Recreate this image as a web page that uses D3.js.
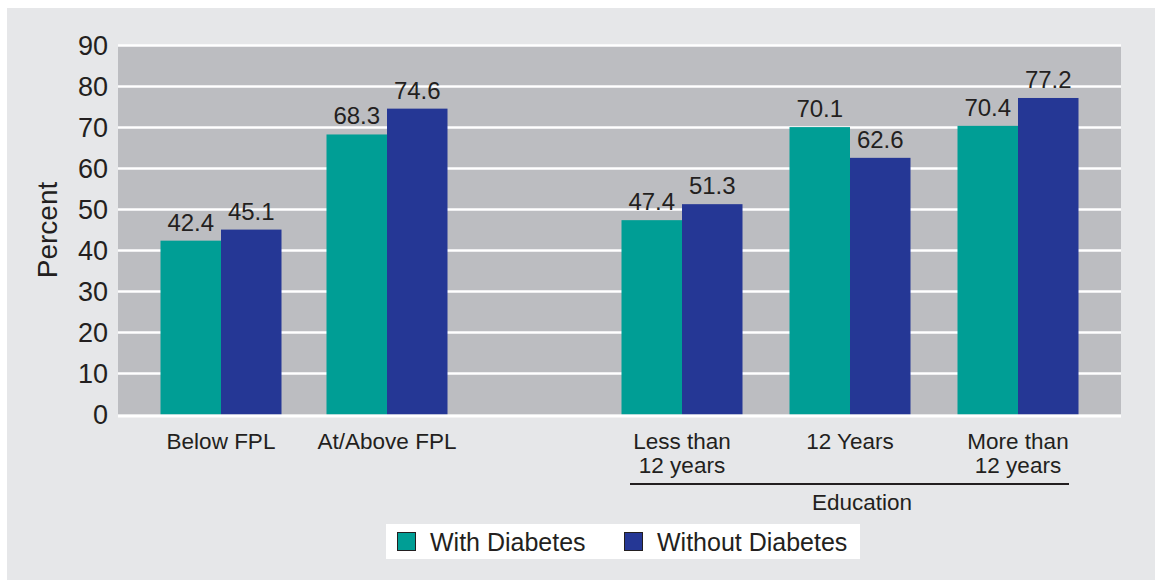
<!DOCTYPE html>
<html>
<head>
<meta charset="utf-8">
<script src="https://cdn.jsdelivr.net/npm/d3@7"></script>
<style>
  html, body { margin: 0; padding: 0; background: #ffffff; }
  svg { display: block; font-family: "Liberation Sans", Arial, Helvetica, sans-serif; }
  text { fill: #231f20; }
</style>
</head>
<body>
<svg id="chart" width="1155" height="580"></svg>
<script>
// Percent of women, by diabetes status
const incomeCategories = ["Below FPL", "At/Above FPL"];
const educationCategories = ["Less than\n12 years", "12 Years", "More than\n12 years"];
const seriesNames = ["With Diabetes", "Without Diabetes"];
const withDiabetes = [42.4, 68.3, 47.4, 70.1, 70.4];
const withoutDiabetes = [45.1, 74.6, 51.3, 62.6, 77.2];
const yTicks = [0, 10, 20, 30, 40, 50, 60, 70, 80, 90];
const educationLabel = "Education";

const colors = { "With Diabetes": "#009e95", "Without Diabetes": "#253795" };

const svg = d3.select("#chart");
const W = 1155, H = 580;

// outer panel
svg.append("rect").attr("x", 7).attr("y", 8).attr("width", W - 7).attr("height", H - 8)
  .attr("fill", "#e6e7e9");

const plot = { left: 118, right: 1121, top: 45.5, bottom: 414.5 };

const y = d3.scaleLinear().domain([0, 90]).range([plot.bottom, plot.top]);

// two category groups with a gap between them
const xIncome = d3.scaleBand().domain(incomeCategories).range([138, 470]);
const xEducation = d3.scaleBand().domain(educationCategories).range([598, 1102]);
const allCategories = incomeCategories.concat(educationCategories);
const center = c => incomeCategories.includes(c)
  ? xIncome(c) + xIncome.bandwidth() / 2
  : xEducation(c) + xEducation.bandwidth() / 2;

const xSeries = d3.scaleBand().domain(seriesNames).range([-60.5, 60.5]);

// plot background
svg.append("rect")
  .attr("x", plot.left).attr("y", y(90))
  .attr("width", plot.right - plot.left).attr("height", y(0) - y(90))
  .attr("fill", "#bcbdc1");

// gridlines
svg.append("g").selectAll("line").data(yTicks.filter(d => d > 0)).join("line")
  .attr("x1", plot.left).attr("x2", plot.right)
  .attr("y1", d => y(d)).attr("y2", d => y(d))
  .attr("stroke", "#ffffff").attr("stroke-width", 2.5);

// bars
const rows = allCategories.map((c, i) => ({
  category: c,
  values: [
    { series: seriesNames[0], value: withDiabetes[i] },
    { series: seriesNames[1], value: withoutDiabetes[i] }
  ]
}));

const groups = svg.append("g").selectAll("g").data(rows).join("g")
  .attr("transform", d => `translate(${center(d.category)},0)`);

groups.selectAll("rect").data(d => d.values).join("rect")
  .attr("x", d => xSeries(d.series))
  .attr("width", xSeries.bandwidth())
  .attr("y", d => y(d.value))
  .attr("height", d => y(0) - y(d.value))
  .attr("fill", d => colors[d.series]);

groups.selectAll("text").data(d => d.values).join("text")
  .attr("x", d => xSeries(d.series) + xSeries.bandwidth() / 2)
  .attr("y", d => y(d.value) - 10)
  .attr("text-anchor", "middle")
  .attr("font-size", 24)
  .text(d => d.value.toFixed(1));

// baseline
svg.append("line")
  .attr("x1", plot.left).attr("x2", plot.right)
  .attr("y1", y(0) + 1.5).attr("y2", y(0) + 1.5)
  .attr("stroke", "#ffffff").attr("stroke-width", 3);

// y axis labels
const yAxis = d3.axisLeft(y).tickValues(yTicks).tickSize(0).tickPadding(0);
const yg = svg.append("g").attr("transform", "translate(108,0)").call(yAxis);
yg.select(".domain").remove();
yg.selectAll("text").attr("font-size", 27).attr("font-family", null).attr("dy", "0.33em")
  .style("fill", "#231f20");

svg.append("text")
  .attr("transform", `translate(57,${(plot.top + plot.bottom) / 2}) rotate(-90)`)
  .attr("text-anchor", "middle")
  .attr("font-size", 28)
  .text("Percent");

// category labels
const catLabels = svg.append("g").selectAll("text").data(allCategories).join("text")
  .attr("x", d => center(d))
  .attr("y", 449)
  .attr("text-anchor", "middle")
  .attr("font-size", 22.5);
catLabels.selectAll("tspan").data(d => d.split("\n")).join("tspan")
  .attr("x", function () { return d3.select(this.parentNode).attr("x"); })
  .attr("dy", (d, i) => i === 0 ? 0 : 24)
  .text(d => d);

// education bracket
const eduStart = xEducation(educationCategories[0]) + 32;
const eduEnd = xEducation(educationCategories[2]) + xEducation.bandwidth() - 33;
svg.append("line")
  .attr("x1", eduStart).attr("x2", eduEnd).attr("y1", 484).attr("y2", 484)
  .attr("stroke", "#231f20").attr("stroke-width", 2);
svg.append("text")
  .attr("x", 862).attr("y", 510)
  .attr("text-anchor", "middle").attr("font-size", 22.5)
  .text(educationLabel);

// legend
const legend = svg.append("g");
legend.append("rect").attr("x", 386).attr("y", 524).attr("width", 474).attr("height", 35)
  .attr("fill", "#ffffff");
const legendX = [397, 624];
const items = legend.selectAll("g").data(seriesNames).join("g")
  .attr("transform", (d, i) => `translate(${legendX[i]},532)`);
items.append("rect").attr("x", 0.5).attr("y", 0.5).attr("width", 18).attr("height", 18)
  .attr("fill", d => colors[d]).attr("stroke", "#231f20").attr("stroke-width", 1);
items.append("text").attr("x", 33).attr("y", 19).attr("font-size", 25).text(d => d);
</script>
</body>
</html>
